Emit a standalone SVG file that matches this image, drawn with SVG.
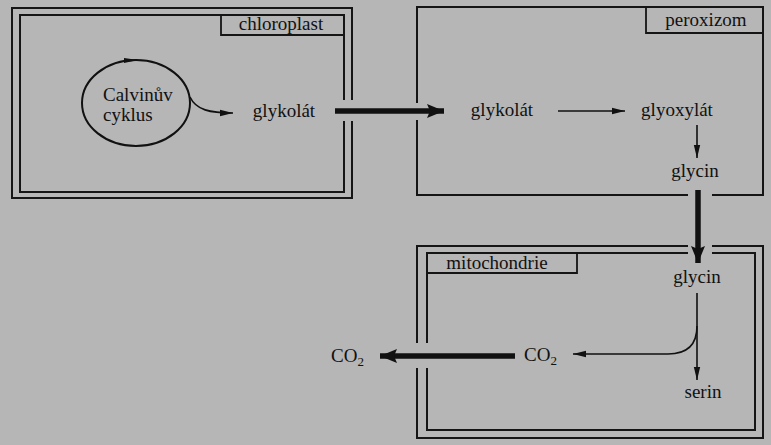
<svg xmlns="http://www.w3.org/2000/svg" width="771" height="445" viewBox="0 0 771 445">
<style>
.wall{fill:none;stroke:#151515;stroke-width:2}
.lbl{fill:none;stroke:#151515;stroke-width:1.8}
.t{font-family:'Liberation Serif','DejaVu Serif',serif;font-size:19px;fill:#111}
.c{text-anchor:middle}
.thin{fill:none;stroke:#111;stroke-width:1.6}
.thick{fill:none;stroke:#111;stroke-width:5.5}
</style>
<defs>
<marker id="ah" markerUnits="userSpaceOnUse" markerWidth="14" markerHeight="8" refX="13" refY="4" orient="auto">
<path d="M0,0.8 L13,4 L0,7.2 Z" fill="#111"/>
</marker>
<marker id="ahT" markerUnits="userSpaceOnUse" markerWidth="18" markerHeight="16" refX="17" refY="8" orient="auto">
<path d="M0,1 L17,8 L0,15 L3,8 Z" fill="#111"/>
</marker>
</defs>
<rect width="771" height="445" fill="#b6b6b6"/>

<g id="chloroplast">
<path class="wall" d="M352,121 V198 H12 V8 H352 V100"/>
<path class="wall" d="M344,121 V192 H20 V15 H344 V100"/>
<path class="lbl" d="M344,35 H221 V15"/>
<text x="281" y="30" class="t c">chloroplast</text>
</g>

<g id="calvin">
<ellipse cx="136" cy="103" rx="54" ry="43" fill="none" stroke="#111" stroke-width="2"/>
<path d="M124,58 L138,60 L124,63 Z" fill="#111"/>
<text x="103" y="101" class="t">Calvinův</text>
<text x="103" y="121" class="t">cyklus</text>
</g>

<g id="glykolat1"><text x="284" y="117" class="t c">glykolát</text></g>

<g id="peroxizom">
<path class="wall" d="M417,120 V195 H688 M712,195 H763 V7 H417 V103"/>
<path class="lbl" d="M763,33 H646 V7"/>
<text x="706" y="26" class="t c">peroxizom</text>
</g>
<g id="glykolat2"><text x="502" y="116" class="t c">glykolát</text></g>
<g id="glyoxylat"><text x="677" y="116" class="t c">glyoxylát</text></g>
<g id="glycin1"><text x="695" y="177" class="t c">glycin</text></g>

<g id="mitochondrie">
<path class="wall" d="M417,343 V246 H688 M712,246 H763 V438 H417 V368"/>
<path class="wall" d="M427,343 V253 H688 M712,253 H755 V430 H427 V368"/>
<path class="lbl" d="M427,273 H577 V253"/>
<text x="497" y="269" class="t c">mitochondrie</text>
</g>
<g id="glycin2"><text x="697" y="283" class="t c">glycin</text></g>
<g id="serin"><text x="703" y="398" class="t c">serin</text></g>
<g id="co2in"><text x="524" y="361" class="t">CO<tspan font-size="13" dy="4">2</tspan></text></g>
<g id="co2out"><text x="331" y="362" class="t">CO<tspan font-size="13" dy="4">2</tspan></text></g>

<g id="connectors">
<path class="thin" d="M190,97 C196,110 210,113 233,113" marker-end="url(#ah)"/>
<path class="thick" d="M335,111 H444" marker-end="url(#ahT)"/>
<path class="thin" d="M558,111 H625" marker-end="url(#ah)"/>
<path class="thin" d="M697,125 V158" marker-end="url(#ah)"/>
<path class="thick" d="M698,190 V263" marker-end="url(#ahT)"/>
<path class="thin" d="M697,293 V380" marker-end="url(#ah)"/>
<path class="thin" d="M697,326 Q697,354 668,354 H573" marker-end="url(#ah)"/>
<path class="thick" d="M515,356 H380" marker-end="url(#ahT)"/>
</g>
</svg>
